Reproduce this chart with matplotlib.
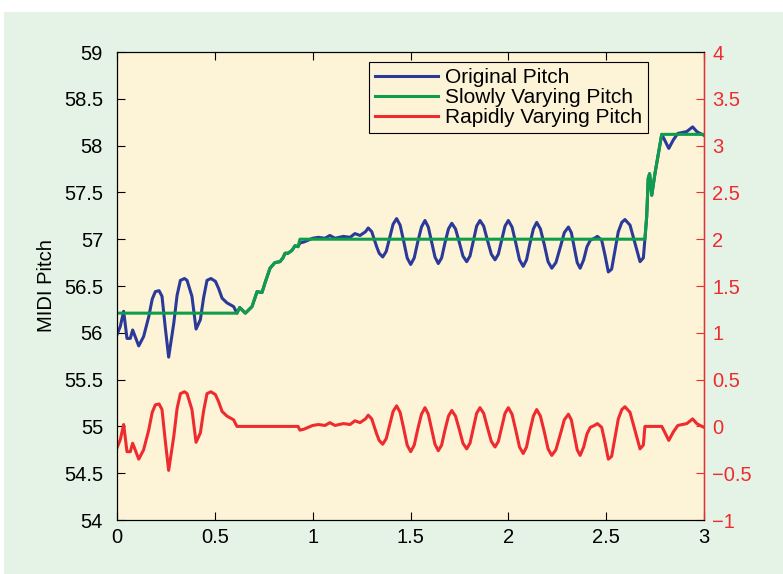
import numpy as np
import matplotlib
matplotlib.use("Agg")
import matplotlib.pyplot as plt
from matplotlib.patches import Rectangle

plt.rcParams['font.family'] = ['Liberation Sans', 'DejaVu Sans']

# time (s), original pitch, slowly varying part, rapidly varying part
t = [0.000, 0.017, 0.034, 0.051, 0.068, 0.080, 0.111, 0.136, 0.162, 0.180,
     0.196, 0.215, 0.230, 0.247, 0.264, 0.290, 0.307, 0.324, 0.345, 0.358,
     0.383, 0.404, 0.426, 0.443, 0.460, 0.480, 0.503, 0.520, 0.537, 0.562,
     0.596, 0.613,
     0.627, 0.656, 0.690, 0.716, 0.741, 0.756, 0.782, 0.807, 0.833, 0.848,
     0.859, 0.874, 0.894, 0.910, 0.925, 0.935,
     0.955, 0.978, 1.000, 1.029, 1.063, 1.088, 1.114, 1.157, 1.191, 1.216,
     1.242, 1.270, 1.284, 1.302, 1.327, 1.340, 1.358, 1.376, 1.394, 1.411,
     1.429, 1.447, 1.465, 1.483, 1.501, 1.519, 1.537, 1.556, 1.574, 1.591,
     1.608, 1.625, 1.642, 1.659, 1.676, 1.694, 1.711, 1.730, 1.749, 1.768,
     1.787, 1.804, 1.821, 1.838, 1.855, 1.874, 1.893, 1.913, 1.932, 1.949,
     1.966, 1.983, 2.000, 2.019, 2.038, 2.057, 2.076, 2.093, 2.110, 2.128,
     2.145, 2.164, 2.184, 2.203, 2.222, 2.243, 2.265, 2.286, 2.307, 2.322,
     2.337, 2.352, 2.367, 2.385, 2.402, 2.419, 2.440, 2.455, 2.477, 2.494,
     2.511, 2.528, 2.545, 2.562, 2.580, 2.596, 2.622, 2.648, 2.673, 2.690,
     2.698,
     2.707, 2.715, 2.722, 2.733, 2.750, 2.784,
     2.794, 2.820, 2.843, 2.866, 2.890, 2.912, 2.942, 2.963, 2.980, 3.000]

pitch = [55.98, 56.07, 56.23, 55.94, 55.94, 56.03, 55.86, 55.96, 56.17, 56.36,
         56.44, 56.45, 56.39, 56.05, 55.74, 56.10, 56.40, 56.56, 56.58, 56.56,
         56.39, 56.04, 56.14, 56.38, 56.56, 56.58, 56.55, 56.47, 56.37, 56.32,
         56.28, 56.21,
         56.27, 56.21, 56.28, 56.44, 56.43, 56.53, 56.69, 56.75, 56.76, 56.80,
         56.85, 56.85, 56.88, 56.93, 56.92, 56.96,
         56.97, 56.99, 57.01, 57.02, 57.01, 57.04, 57.01, 57.03, 57.02, 57.06,
         57.04, 57.08, 57.12, 57.08, 56.92, 56.85, 56.81, 56.87, 57.02, 57.16,
         57.22, 57.15, 56.98, 56.80, 56.73, 56.80, 56.97, 57.13, 57.20, 57.13,
         56.97, 56.81, 56.74, 56.80, 56.96, 57.11, 57.17, 57.11, 56.97, 56.82,
         56.76, 56.82, 56.98, 57.14, 57.20, 57.14, 56.99, 56.84, 56.78, 56.84,
         56.99, 57.14, 57.20, 57.13, 56.96, 56.78, 56.71, 56.78, 56.95, 57.11,
         57.18, 57.11, 56.94, 56.76, 56.69, 56.75, 56.91, 57.07, 57.13, 57.07,
         56.91, 56.75, 56.69, 56.78, 56.92, 56.99, 57.01, 57.03, 56.99, 56.83,
         56.65, 56.68, 56.88, 57.08, 57.18, 57.21, 57.15, 56.95, 56.76, 56.80,
         57.00,
         57.24, 57.65, 57.70, 57.47, 57.71, 58.12,
         58.08, 57.97, 58.06, 58.13, 58.14, 58.15, 58.20, 58.15, 58.13, 58.11]

slow = [56.21] * 32 + \
       [56.27, 56.21, 56.28, 56.44, 56.43, 56.53, 56.69, 56.75, 56.76, 56.80,
        56.85, 56.85, 56.88, 56.93, 56.92, 57.00] + \
       [57.00] * 91 + \
       [57.24, 57.65, 57.70, 57.47, 57.71, 58.12] + \
       [58.12] * 10

rapid = [-0.23, -0.14, 0.02, -0.27, -0.27, -0.18, -0.35, -0.25, -0.04, 0.15,
         0.23, 0.24, 0.18, -0.16, -0.47, -0.11, 0.19, 0.35, 0.37, 0.35,
         0.18, -0.17, -0.07, 0.17, 0.35, 0.37, 0.34, 0.26, 0.16, 0.11,
         0.07, 0.00,
         0.00, 0.00, 0.00, 0.00, 0.00, 0.00, 0.00, 0.00, 0.00, 0.00,
         0.00, 0.00, 0.00, 0.00, 0.00, -0.04,
         -0.03, -0.01, 0.01, 0.02, 0.01, 0.04, 0.01, 0.03, 0.02, 0.06,
         0.04, 0.08, 0.12, 0.08, -0.08, -0.15, -0.19, -0.13, 0.02, 0.16,
         0.22, 0.15, -0.02, -0.20, -0.27, -0.20, -0.03, 0.13, 0.20, 0.13,
         -0.03, -0.19, -0.26, -0.20, -0.04, 0.11, 0.17, 0.11, -0.03, -0.18,
         -0.24, -0.18, -0.02, 0.14, 0.20, 0.14, -0.01, -0.16, -0.22, -0.16,
         -0.01, 0.14, 0.20, 0.13, -0.04, -0.22, -0.29, -0.22, -0.05, 0.11,
         0.18, 0.11, -0.06, -0.24, -0.31, -0.25, -0.09, 0.07, 0.13, 0.07,
         -0.09, -0.25, -0.31, -0.22, -0.08, -0.01, 0.01, 0.03, -0.01, -0.17,
         -0.35, -0.32, -0.12, 0.08, 0.18, 0.21, 0.15, -0.05, -0.24, -0.20,
         0.00,
         0.00, 0.00, 0.00, 0.00, 0.00, 0.00,
         -0.04, -0.15, -0.06, 0.01, 0.02, 0.03, 0.08, 0.03, 0.01, -0.01]

labels = ['Original Pitch', 'Slowly Varying Pitch', 'Rapidly Varying Pitch']

bg_green = '#e4f3e6'
bg_yellow = '#fdf3d7'
c_blue = '#2b3a98'
c_green = '#0e9e4a'
c_red = '#ee2b2e'
fs = 14.5

fig = plt.figure(figsize=(7.83, 5.74), dpi=100)
fig.patch.set_facecolor('white')
fig.patches.append(Rectangle((4 / 783, 0), 1, 1 - 12 / 574, transform=fig.transFigure,
                             facecolor=bg_green, edgecolor='none', zorder=-10))

ax = fig.add_axes([117 / 783, 1 - 520 / 574, 587 / 783, 468 / 574])
ax.set_facecolor(bg_yellow)
l1, = ax.plot(t, pitch, color=c_blue, lw=2.2)
l2, = ax.plot(t, slow, color=c_green, lw=2.2)
ax.set_xlim(0, 3)
ax.set_ylim(54, 59)
ax.set_xticks([0, 0.5, 1, 1.5, 2, 2.5, 3])
ax.set_xticklabels(['0', '0.5', '1', '1.5', '2', '2.5', '3'])
ax.set_yticks(np.arange(54, 59.01, 0.5))
ax.set_yticklabels(['54', '54.5', '55', '55.5', '56', '56.5', '57', '57.5', '58', '58.5', '59'])
ax.tick_params(direction='in', length=6, width=0.8, labelsize=fs, top=True)
ax.tick_params(axis='y', pad=10)
ax.tick_params(axis='x', pad=6)
ax.set_ylabel('MIDI Pitch', fontsize=fs, labelpad=6)

ax2 = ax.twinx()
l3, = ax2.plot(t, rapid, color=c_red, lw=2.2)
ax2.set_ylim(-1, 4)
ax2.set_yticks(np.arange(-1, 4.01, 0.5))
ax2.set_yticklabels(['\u22121', '\u22120.5', '0', '0.5', '1', '1.5', '2', '2.5', '3', '3.5', '4'])
ax2.tick_params(axis='y', direction='in', length=6, width=0.8, labelsize=fs,
                colors=c_red, pad=6)
ax2.spines['right'].set_color(c_red)
ax2.spines['right'].set_linewidth(1.0)

leg = ax2.legend([l1, l2, l3], labels, loc='upper right',
                 bbox_to_anchor=(0.905, 0.979), fontsize=15, fancybox=False,
                 framealpha=1, facecolor=bg_yellow, edgecolor='black',
                 handlelength=3.0, labelspacing=0.05, borderpad=0.3,
                 handletextpad=0.35, borderaxespad=0)
leg.get_frame().set_linewidth(0.8)

fig.savefig('out.png', dpi=100)
